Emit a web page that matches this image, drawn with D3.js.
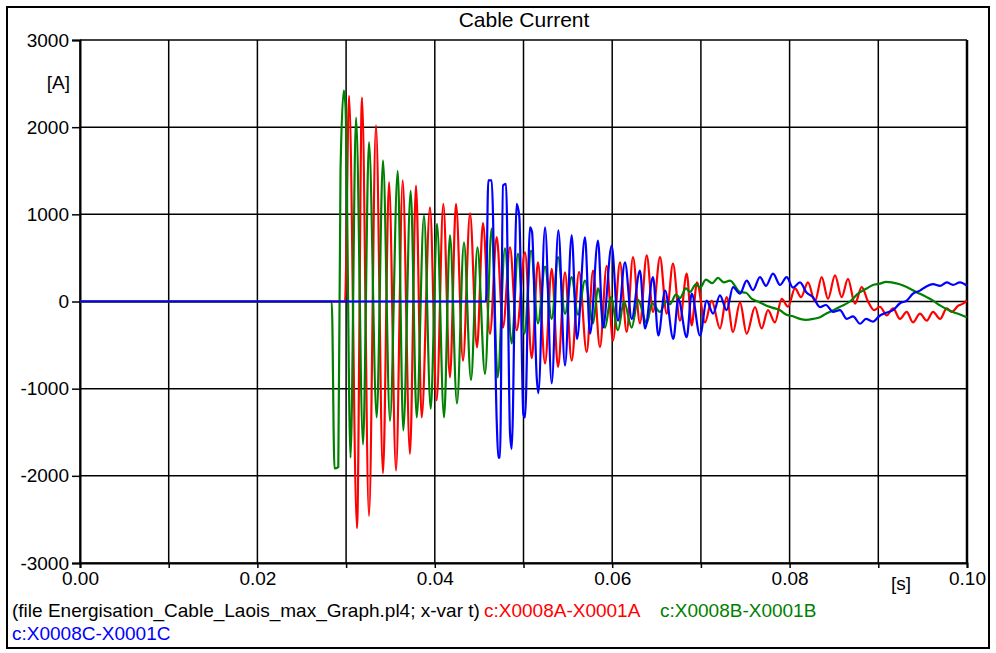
<!DOCTYPE html>
<html>
<head>
<meta charset="utf-8">
<script src="https://cdn.jsdelivr.net/npm/d3@7"></script>
<style>
  body { margin: 0; background: #fff; }
  svg { display: block; font-family: "Liberation Sans", Arial, sans-serif; }
</style>
</head>
<body>
<svg id="chart" width="996" height="653"></svg>
<script>
// Axis ticks
var xTicks = [0, 0.01, 0.02, 0.03, 0.04, 0.05, 0.06, 0.07, 0.08, 0.09, 0.1];
var xLabels = [0, 0.02, 0.04, 0.06, 0.08, 0.1];
var yTicks = [-3000, -2000, -1000, 0, 1000, 2000, 3000];

// Series: [time (s), current (A)] at the turning points
var phaseA = [
  [0, 0], [0.02988, 0], [0.03033, 2360], [0.03123, -2600], [0.03179, 2340], [0.03258, -2460],
  [0.03337, 2020], [0.03416, -1970], [0.03484, 1370], [0.03563, -1940], [0.03638, 1390],
  [0.03720, -1750], [0.03788, 1330], [0.03852, -1330], [0.03946, 1080], [0.04021, -1135],
  [0.04096, 1120], [0.04171, -870], [0.04239, 1120], [0.04318, -680], [0.04397, 1010],
  [0.04476, -525], [0.04543, 900], [0.04622, -370], [0.04698, 740], [0.04769, -300],
  [0.04848, 620], [0.04923, -330], [0.05017, 565], [0.05093, -650], [0.05163, 450],
  [0.05243, -710], [0.05318, 375], [0.05389, -750], [0.05468, 335], [0.05543, -680],
  [0.05626, 340], [0.05712, -580], [0.05784, 355], [0.05862, -525], [0.05938, 410],
  [0.06009, -450], [0.06088, 450], [0.06163, -350], [0.06234, 510], [0.06313, -250],
  [0.06389, 530], [0.06460, -120], [0.06539, 510], [0.06614, -140], [0.06685, 435],
  [0.06764, -220], [0.06840, 320], [0.06896, -275], [0.06956, 220], [0.07046, -240],
  [0.07122, 10], [0.07215, -310], [0.07290, 50], [0.07362, -350], [0.07441, -10],
  [0.07516, -370], [0.07610, -65], [0.07685, -310], [0.07756, -100], [0.07835, -240],
  [0.07911, 30], [0.07982, -60], [0.08061, 150], [0.08129, 50], [0.08207, 220],
  [0.08286, 0], [0.08362, 280], [0.08433, 30], [0.08512, 300], [0.08587, 50],
  [0.08658, 260], [0.08737, -25], [0.08813, 165], [0.08884, 0], [0.08952, -100],
  [0.09019, -60], [0.09095, -160], [0.09166, -80], [0.09245, -200], [0.09320, -120],
  [0.09391, -240], [0.09470, -140], [0.09546, -220], [0.09617, -120], [0.09696, -200],
  [0.09772, -80], [0.09828, -120], [0.09899, -50], [0.09955, -25], [0.09997, 10]
];

var phaseB = [
  [0, 0], [0.02838, 0], [0.02869, -1915], [0.02912, -1900], [0.02937, 1500], [0.02974, 2420],
  [0.02993, 2250], [0.03050, -1790], [0.03112, 2110], [0.03191, -1640], [0.03258, 1830],
  [0.03345, -1330], [0.03416, 1620], [0.03495, -1370], [0.03582, 1500], [0.03645, -1480],
  [0.03728, 1270], [0.03796, -1330], [0.03878, 985], [0.03954, -1230], [0.04025, 890],
  [0.04104, -1330], [0.04171, 760], [0.04250, -1170], [0.04329, 680], [0.04408, -900],
  [0.04481, 620], [0.04566, -830], [0.04641, 835], [0.04709, -870], [0.04791, 610],
  [0.04867, -480], [0.04938, 550], [0.05011, -370], [0.05085, 585], [0.05163, -250],
  [0.05243, 400], [0.05318, -200], [0.05389, 510], [0.05468, -140], [0.05543, 280],
  [0.05614, -150], [0.05693, 240], [0.05784, -250], [0.05840, 150], [0.05919, -300],
  [0.05986, 50], [0.06065, -330], [0.06133, 0], [0.06220, -300], [0.06291, 20],
  [0.06389, -250], [0.06449, -20], [0.06539, -120], [0.06607, 0], [0.06652, -30],
  [0.06719, 80], [0.06764, 40], [0.06832, 150], [0.06877, 110], [0.06945, 200],
  [0.06990, 160], [0.07057, 250], [0.07125, 210], [0.07193, 270], [0.07260, 220],
  [0.07328, 240], [0.07441, 110], [0.07508, 100], [0.07576, 30], [0.07644, 0],
  [0.07734, -45], [0.07802, -70], [0.07892, -100], [0.07959, -150], [0.08038, -170],
  [0.08117, -200], [0.08185, -210], [0.08264, -200], [0.08343, -180], [0.08410, -140],
  [0.08475, -110], [0.08568, -60], [0.08681, 0], [0.08771, 90], [0.08869, 150],
  [0.08940, 190], [0.09019, 205], [0.09087, 225], [0.09151, 220], [0.09233, 200],
  [0.09320, 165], [0.09425, 110], [0.09546, 50], [0.09617, 10], [0.09696, -45],
  [0.09775, -90], [0.09842, -120], [0.09921, -150], [0.09997, -180]
];

var phaseC = [
  [0, 0], [0.04577, 0], [0.04603, 1390], [0.04641, 1390], [0.04698, -1370], [0.04716, -1790],
  [0.04735, -1790], [0.04769, 1330], [0.04803, 1350], [0.04848, -1510], [0.04867, -1690],
  [0.04923, 1120], [0.04953, 970], [0.04998, -1290], [0.05017, -1330], [0.05073, 850],
  [0.05096, 800], [0.05149, -870], [0.05167, -1050], [0.05243, 850], [0.05318, -940],
  [0.05393, 815], [0.05468, -735], [0.05543, 760], [0.05603, -430], [0.05693, 735],
  [0.05750, -370], [0.05840, 700], [0.05896, -300], [0.05994, 640], [0.06065, -220],
  [0.06144, 450], [0.06220, -200], [0.06313, 355], [0.06370, -310], [0.06460, 280],
  [0.06520, -390], [0.06596, 125], [0.06689, -430], [0.06745, 30], [0.06840, -410],
  [0.06896, 90], [0.06990, -390], [0.07065, 10], [0.07137, -140], [0.07215, 70],
  [0.07290, -100], [0.07362, 165], [0.07441, 90], [0.07516, 240], [0.07587, 130],
  [0.07666, 280], [0.07734, 180], [0.07813, 320], [0.07892, 190], [0.07967, 280],
  [0.08038, 160], [0.08117, 220], [0.08193, 100], [0.08264, 50], [0.08343, -65],
  [0.08410, -40], [0.08489, -120], [0.08568, -100], [0.08644, -200], [0.08715, -170],
  [0.08794, -255], [0.08861, -200], [0.08940, -230], [0.09019, -160], [0.09087, -130],
  [0.09166, -100], [0.09245, -20], [0.09320, 10], [0.09391, 90], [0.09470, 125],
  [0.09538, 170], [0.09617, 200], [0.09696, 180], [0.09772, 220], [0.09842, 190],
  [0.09921, 220], [0.1, 180]
];

var seriesNames = ["c:X0008A-X0001A", "c:X0008B-X0001B", "c:X0008C-X0001C"];
var seriesColors = ["#ff0000", "#008000", "#0000ff"];

var svg = d3.select("#chart");
var plotLeft = 80, plotRight = 967, plotTop = 40, plotBottom = 563;

var x = d3.scaleLinear().domain([0, 0.1]).range([plotLeft, plotRight]);
var y = d3.scaleLinear().domain([-3000, 3000]).range([plotBottom, plotTop]);

//Outer frame
svg.append("rect")
  .attr("x", 7).attr("y", 7)
  .attr("width", 982).attr("height", 641)
  .attr("fill", "none")
  .attr("stroke", "#000")
  .attr("stroke-width", 2);

//Title
svg.append("text")
  .attr("x", 524).attr("y", 27)
  .attr("text-anchor", "middle")
  .style("font-size", "21px")
  .text("Cable Current");

//Grid lines
svg.append("g").selectAll("line")
  .data(xTicks)
  .enter().append("line")
  .attr("x1", d => x(d)).attr("x2", d => x(d))
  .attr("y1", plotTop).attr("y2", plotBottom)
  .attr("stroke", "#000").attr("stroke-width", 1.5);

svg.append("g").selectAll("line")
  .data(yTicks)
  .enter().append("line")
  .attr("x1", plotLeft).attr("x2", plotRight)
  .attr("y1", d => y(d)).attr("y2", d => y(d))
  .attr("stroke", "#000").attr("stroke-width", 1.5);

//Axes (ticks and labels) - plain hyphen for negatives like the original plot program
var yAxis = d3.axisLeft(y)
  .tickValues(yTicks)
  .tickSize(8)
  .tickPadding(3)
  .tickFormat(d => String(d));
var gy = svg.append("g").attr("transform", "translate(" + plotLeft + ",0)").call(yAxis);

var xAxis = d3.axisBottom(x)
  .tickValues(xTicks)
  .tickSize(5)
  .tickPadding(4)
  .tickFormat(d => xLabels.some(v => Math.abs(v - d) < 1e-9) ? d.toFixed(2) : "");
var gx = svg.append("g").attr("transform", "translate(0," + plotBottom + ")").call(xAxis);

[gx, gy].forEach(function(g) {
  g.select(".domain").attr("stroke", "#000").attr("stroke-width", 2);
  g.selectAll(".tick line").attr("stroke", "#000").attr("stroke-width", 1.5);
  g.selectAll(".tick text")
    .attr("fill", "#000")
    .style("font-size", "19px")
    .style("font-family", "'Liberation Sans', Arial, sans-serif");
});

//Right border of the plot
svg.append("line")
  .attr("x1", plotRight).attr("x2", plotRight)
  .attr("y1", plotTop).attr("y2", plotBottom)
  .attr("stroke", "#000").attr("stroke-width", 2.5);

//Unit labels
svg.append("text")
  .attr("x", 70).attr("y", 89)
  .attr("text-anchor", "end")
  .style("font-size", "19px")
  .text("[A]");

svg.append("text")
  .attr("x", 901).attr("y", 590)
  .attr("text-anchor", "middle")
  .style("font-size", "19px")
  .text("[s]");

//Waveforms (red first, blue on top)
var line = d3.line()
  .x(d => x(d[0]))
  .y(d => y(d[1]))
  .curve(d3.curveMonotoneX);

[phaseA, phaseB, phaseC].forEach(function(data, i) {
  svg.append("path")
    .datum(data)
    .attr("d", line)
    .attr("fill", "none")
    .attr("stroke", seriesColors[i])
    .attr("stroke-width", 2.2)
    .attr("stroke-linejoin", "round");
});

//Legend text under the axis
var legend = svg.append("text")
  .attr("x", 12).attr("y", 617)
  .style("font-size", "19px");
legend.append("tspan").attr("fill", "#000").text("(file Energisation_Cable_Laois_max_Graph.pl4; x-var t)");
legend.append("tspan").attr("x", 484).attr("fill", seriesColors[0]).text(seriesNames[0]);
legend.append("tspan").attr("x", 660).attr("fill", seriesColors[1]).text(seriesNames[1]);

svg.append("text")
  .attr("x", 12).attr("y", 640)
  .style("font-size", "19px")
  .attr("fill", seriesColors[2])
  .text(seriesNames[2]);
</script>
</body>
</html>
